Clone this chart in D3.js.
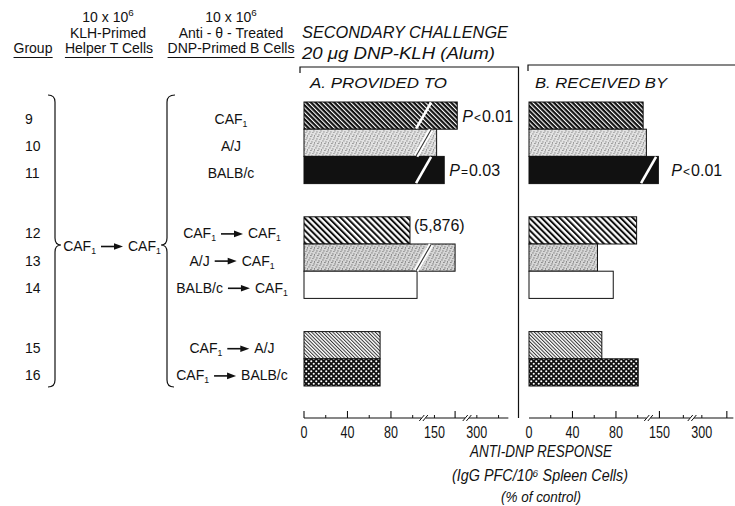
<!DOCTYPE html>
<html><head><meta charset="utf-8">
<script src="https://cdn.jsdelivr.net/npm/d3@7"></script>
<style>
body{margin:0;background:#fff}
svg{display:block}
text{font-family:"Liberation Sans",Arial,sans-serif;fill:#111}
</style>
</head><body>
<svg id="c" width="735" height="506"></svg>
<script>
// ---------- data ----------
const groups = ["9","10","11","12","13","14","15","16"];
const donor = [null,null,null,"CAF1","A/J","BALB/c","CAF1","CAF1"];
const recipient = ["CAF1","A/J","BALB/c","CAF1","CAF1","CAF1","A/J","BALB/c"];
const cluster = [0,0,0,1,1,1,2,2];
const providedTo = [171,152,159,97.5,169,104,70,70];
const receivedBy = [105,108,149,99,63,77.5,67,100.5];
const fills = ["hatchDark","stippleLight","solid","hatchMed","stipple","white","hatchFine","dots"];
const notesA = ["P<0.01","","P=0.03","(5,876)","","","",""];
const notesB = ["","","P<0.01","","","","",""];
const tickLabels = [0,40,80,150,300];
const majorTicksA = [0,40,80,169];
const minorTicksA = [20,60,100,150,300,320];
const majorTicksB = [40,80,150,323];
const minorTicksB = [20,60,100,172,300];
const breakDomain = [0,110,140,180,291,329];

// ---------- setup ----------
const svg = d3.select("#c");
const U = 1.087;
const unitRange = [0,110,110,150,150,188];
const xA = d3.scaleLinear().domain(breakDomain).range(unitRange.map(v=>304+v*U));
const xB = d3.scaleLinear().domain(breakDomain).range(unitRange.map(v=>529+v*U));
const slot = i => i + cluster[i]*1.22;
const y = d3.scaleLinear().domain([0,10.44]).range([102,386]);
const bandH = y(1)-y(0);
const axisY = 418;

// ---------- patterns ----------
const defs = svg.append("defs");
function hatch(id, period, lineW, bg, fg){
  const p = defs.append("pattern").attr("id",id).attr("patternUnits","userSpaceOnUse")
    .attr("width",period).attr("height",period).attr("patternTransform","rotate(-45)");
  p.append("rect").attr("width",period).attr("height",period).attr("fill",bg);
  p.append("rect").attr("width",lineW).attr("height",period).attr("fill",fg);
}
hatch("hatchDark",3.3,1.1,"#111","#fff");
hatch("hatchMed",4.3,2.0,"#fff","#111");
hatch("hatchFine",2.5,1.0,"#fff","#333");
(function(){
  const p = defs.append("pattern").attr("id","dots").attr("patternUnits","userSpaceOnUse")
    .attr("width",5).attr("height",5);
  p.append("rect").attr("width",5).attr("height",5).attr("fill","#111");
  [[1.25,1.25],[3.75,3.75]].forEach(c=>p.append("circle").attr("cx",c[0]).attr("cy",c[1]).attr("r",1.05).attr("fill","#fff"));
})();
function stipple(id,bg,dot){
  const p = defs.append("pattern").attr("id",id).attr("patternUnits","userSpaceOnUse")
    .attr("width",7).attr("height",7);
  p.append("rect").attr("width",7).attr("height",7).attr("fill",bg);
  [[0.5,0.5],[3.5,1.5],[5.5,4.5],[1.5,5.5],[2.5,3.0],[6.0,2.5],[4.5,6.3]].forEach(c=>
    p.append("rect").attr("x",c[0]).attr("y",c[1]).attr("width",0.9).attr("height",0.9).attr("fill",dot));
}
stipple("stippleLight","#e2e2e2","#444");
stipple("stipple","#d6d6d6","#333");

function fillOf(i){
  if(fills[i]==="solid") return "#111";
  if(fills[i]==="white") return "#fff";
  return `url(#${fills[i]})`;
}

// ---------- helpers ----------
function strainText(parent, name, x, yb, anchor, fs){
  fs = fs||14;
  const t = parent.append("text").attr("x",x).attr("y",yb).attr("font-size",fs).attr("text-anchor",anchor);
  if(name==="CAF1"){
    t.append("tspan").text("CAF");
    t.append("tspan").attr("font-size",fs*0.62).attr("dy",3).text("1");
  } else t.text(name);
  return t;
}
function arrowLabel(cx, yb, left, right){
  const g = svg.append("g");
  const t1 = strainText(g,left,0,yb,"start");
  const w1 = t1.node().getComputedTextLength();
  const gap = 5, aw = 22, ay = yb-4.5;
  const a0 = w1+gap;
  g.append("line").attr("x1",a0).attr("x2",a0+aw-6).attr("y1",ay).attr("y2",ay)
    .attr("stroke","#111").attr("stroke-width",1.6);
  g.append("path").attr("d",`M${a0+aw},${ay} L${a0+aw-9},${ay-3.3} L${a0+aw-9},${ay+3.3} Z`).attr("fill","#111");
  const t2 = strainText(g,right,a0+aw+gap,yb,"start");
  const w2 = t2.node().getComputedTextLength();
  const total = a0+aw+gap+w2;
  g.attr("transform",`translate(${cx-total/2},0)`);
}
function fitText(t, len){ t.attr("textLength",len).attr("lengthAdjust","spacingAndGlyphs"); return t; }

// ---------- headers ----------
function sup(parent, x, yb, base, s, fs){
  const t = parent.append("text").attr("x",x).attr("y",yb).attr("font-size",fs).attr("text-anchor","middle");
  t.append("tspan").text(base);
  t.append("tspan").attr("font-size",fs*0.7).attr("dy",-6).text(s);
  return t;
}
sup(svg,108,22,"10 x 10","6",14);
svg.append("text").attr("x",108).attr("y",38).attr("font-size",14).attr("text-anchor","middle").text("KLH-Primed");
const h2 = svg.append("text").attr("x",109).attr("y",53).attr("font-size",14).attr("text-anchor","middle").text("Helper T Cells");
sup(svg,231,22,"10 x 10","6",14);
svg.append("text").attr("x",231).attr("y",38).attr("font-size",14).attr("text-anchor","middle").text("Anti - θ - Treated");
const h3 = svg.append("text").attr("x",231).attr("y",53).attr("font-size",14).attr("text-anchor","middle").text("DNP-Primed B Cells");
const h1 = svg.append("text").attr("x",33).attr("y",53).attr("font-size",14).attr("text-anchor","middle").text("Group");
[h1,h2,h3].forEach(h=>{
  const b = h.node().getBBox();
  svg.append("line").attr("x1",b.x).attr("x2",b.x+b.width).attr("y1",57.5).attr("y2",57.5)
    .attr("stroke","#111").attr("stroke-width",1);
});

// ---------- left column ----------
groups.forEach((gname,i)=>{
  const yc = y(slot(i))+bandH/2;
  svg.append("text").attr("x",25).attr("y",yc+8).attr("font-size",14).text(gname);
  if(donor[i]) arrowLabel(232, yc+8, donor[i], recipient[i]);
  else strainText(svg, recipient[i], 231, yc+8, "middle");
});
const bTop = y(0)-7, bBot = y(10.44)+1, bMid = 245;
svg.append("path").attr("d",`M48,${bTop} Q55,${bTop} 55,${bTop+7} L55,${bMid-7} Q55,${bMid} 61,${bMid} Q55,${bMid} 55,${bMid+7} L55,${bBot-7} Q55,${bBot} 48,${bBot}`)
  .attr("fill","none").attr("stroke","#111").attr("stroke-width",1.2);
svg.append("path").attr("d",`M175,${bTop} Q167,${bTop} 167,${bTop+7} L167,${bMid-7} Q167,${bMid} 161,${bMid} Q167,${bMid} 167,${bMid+7} L167,${bBot-7} Q167,${bBot} 174,${bBot}`)
  .attr("fill","none").attr("stroke","#111").attr("stroke-width",1.2);
arrowLabel(112, bMid+6, "CAF1", "CAF1");

// ---------- titles ----------
fitText(svg.append("text").attr("x",302).attr("y",38).attr("font-size",17).attr("font-style","italic").text("SECONDARY CHALLENGE"),206);
fitText(svg.append("text").attr("x",302).attr("y",59).attr("font-size",17).attr("font-style","italic").text("20 μg DNP-KLH (Alum)"),193);
fitText(svg.append("text").attr("x",310).attr("y",88).attr("font-size",15).attr("font-style","italic").text("A. PROVIDED TO"),137);
fitText(svg.append("text").attr("x",535).attr("y",88).attr("font-size",15).attr("font-style","italic").text("B. RECEIVED BY"),132);

// frame
svg.append("path").attr("d",`M300,73 L300,67 L518.5,67 L518.5,${axisY}`).attr("fill","none").attr("stroke","#111").attr("stroke-width",1.2);
svg.append("path").attr("d",`M528,71 L528,65 L735,65`).attr("fill","none").attr("stroke","#111").attr("stroke-width",1.2);

// ---------- panels ----------
function panel(x, values, notes, major, minor, noteGap){
  const g = svg.append("g");
  g.selectAll("rect.bar").data(values).join("rect").attr("class","bar")
    .attr("x",x(0)).attr("y",(d,i)=>y(slot(i)))
    .attr("width",d=>x(d)-x(0)).attr("height",bandH)
    .attr("fill",(d,i)=>fillOf(i)).attr("stroke","#111").attr("stroke-width",1);
  // bar break marks
  const xb = x(110);
  values.forEach((v,i)=>{
    if(v<=110) return;
    const y0 = y(slot(i)), y1 = y0+bandH;
    const stip = fills[i].startsWith("stipple");
    g.append("line").attr("x1",xb-7.5).attr("y1",y1-0.5).attr("x2",xb+7.5).attr("y2",y0+0.5)
      .attr("stroke","#fff").attr("stroke-width",stip?5:2.6);
    if(stip) g.append("line").attr("x1",xb-7.5).attr("y1",y1-0.5).attr("x2",xb+7.5).attr("y2",y0+0.5)
      .attr("stroke","#333").attr("stroke-width",1.1);
  });
  // notes
  values.forEach((v,i)=>{
    if(!notes[i]) return;
    const yc = y(slot(i))+bandH/2;
    const t = g.append("text").attr("x",x(v)+(i===3?4:noteGap)).attr("y",yc+(i===3?1:6)).attr("font-size",16);
    if(notes[i][0]==="P"){
      t.append("tspan").attr("font-style","italic").text("P");
      t.append("tspan").attr("font-size",12).attr("dx",1).text(notes[i][1]);
      t.append("tspan").attr("dx",1).text(notes[i].slice(2));
    } else t.text(notes[i]);
  });
  // axis
  const segs = [[x(0),x(110)-2],[x(140)+2,x(180)-2],[x(291)+2,x(329)]];
  segs.forEach(s=>g.append("line").attr("x1",s[0]).attr("x2",s[1]).attr("y1",axisY).attr("y2",axisY).attr("stroke","#111").attr("stroke-width",1.1));
  [x(110),x(180)].forEach(bx=>{
    [-1.8,1.8].forEach(o=>g.append("line").attr("x1",bx+o-2.5).attr("y1",axisY+3).attr("x2",bx+o+2.5).attr("y2",axisY-3)
      .attr("stroke","#111").attr("stroke-width",1));
  });
  g.selectAll("line.maj").data(major).join("line").attr("class","maj")
    .attr("x1",d=>x(d)).attr("x2",d=>x(d)).attr("y1",axisY).attr("y2",axisY-7).attr("stroke","#111").attr("stroke-width",1.1);
  g.selectAll("line.min").data(minor).join("line").attr("class","min")
    .attr("x1",d=>x(d)).attr("x2",d=>x(d)).attr("y1",axisY).attr("y2",axisY-3).attr("stroke","#111").attr("stroke-width",1);
  g.selectAll("text.tl").data(tickLabels).join("text").attr("class","tl")
    .attr("x",d=>x(d)).attr("y",437.5).attr("font-size",16.5).attr("text-anchor","middle").text(d=>d)
    .each(function(){ const w=this.getComputedTextLength(); d3.select(this).attr("textLength",w*0.76).attr("lengthAdjust","spacingAndGlyphs"); });
}
panel(xA, providedTo, notesA, majorTicksA, minorTicksA, 5);
panel(xB, receivedBy, notesB, majorTicksB, minorTicksB, 13);

// ---------- axis title ----------
fitText(svg.append("text").attr("x",541).attr("y",457).attr("font-size",17).attr("font-style","italic").attr("text-anchor","middle").text("ANTI-DNP RESPONSE"),142);
fitText(svg.append("text").attr("x",540).attr("y",481).attr("font-size",16.5).attr("font-style","italic").attr("text-anchor","middle").text("(IgG PFC/10⁶ Spleen Cells)"),176);
fitText(svg.append("text").attr("x",541).attr("y",502).attr("font-size",15.5).attr("font-style","italic").attr("text-anchor","middle").text("(% of control)"),80);
</script>
</body></html>
